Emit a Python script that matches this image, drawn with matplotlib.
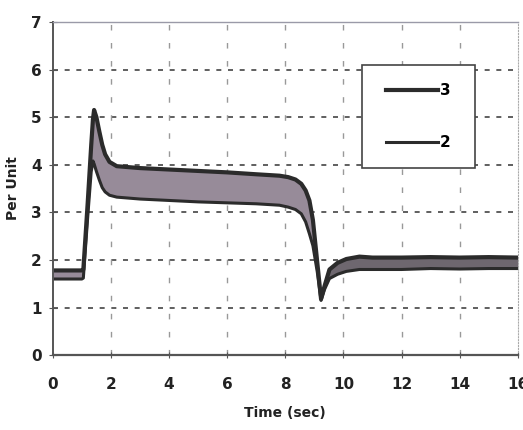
import numpy as np
import matplotlib.pyplot as plt
from matplotlib import font_manager
from matplotlib.patches import Rectangle

# time points (sec)
t = [0, 1.0, 1.05, 1.2, 1.32, 1.38, 1.42, 1.5, 1.6, 1.7, 1.8, 1.95, 2.2, 3, 4, 5, 6, 7, 7.8,
     8.1, 8.35, 8.55, 8.7, 8.83, 8.95, 9.1, 9.23, 9.35, 9.52, 9.8, 10.1, 10.55, 11, 12, 13, 14, 15, 16]
# curve 3 (upper envelope)
s3 = [1.78, 1.78, 1.8, 3.2, 4.4, 4.95, 5.15, 5.0, 4.7, 4.42, 4.22, 4.06, 3.97, 3.93, 3.9, 3.87, 3.84, 3.8, 3.77,
      3.74, 3.69, 3.6, 3.46, 3.25, 2.84, 1.95, 1.18, 1.45, 1.8, 1.94, 2.02, 2.07, 2.05, 2.05, 2.06, 2.05, 2.06, 2.05]
# curve 2 (lower envelope)
s2 = [1.6, 1.6, 1.62, 2.9, 3.85, 4.08, 4.02, 3.86, 3.68, 3.52, 3.43, 3.36, 3.32, 3.28, 3.25, 3.22, 3.2, 3.18, 3.15,
      3.11, 3.06, 2.97, 2.8, 2.55, 2.3, 1.75, 1.15, 1.38, 1.61, 1.7, 1.76, 1.8, 1.8, 1.8, 1.82, 1.81, 1.82, 1.82]

xticks = [0, 2, 4, 6, 8, 10, 12, 14, 16]
yticks = [0, 1, 2, 3, 4, 5, 6, 7]

t = np.array(t)
s3 = np.array(s3)
s2 = np.array(s2)

names = {f.name for f in font_manager.fontManager.ttflist}
if 'Liberation Sans Narrow' in names:
    plt.rcParams['font.family'] = ['Liberation Sans Narrow', 'DejaVu Sans']
    fs = 13
else:
    fs = 11

fig = plt.figure(figsize=(5.23, 4.30), dpi=100)
ax = fig.add_axes([0.101, 0.174, 0.889, 0.775])

ax.fill_between(t, s2, s3, where=(t <= 9.6), color='#978b99', lw=0, interpolate=True)
ax.fill_between(t, s2, s3, where=(t >= 9.5), color='#6e676f', lw=0, interpolate=True)
ax.plot(t, s3, color='#2b2b2b', lw=3, label='3', solid_joinstyle='round')
ax.plot(t, s2, color='#2b2b2b', lw=2.2, label='2', solid_joinstyle='round')

ax.set_xlim(0, 16)
ax.set_ylim(0, 7)
ax.set_xticks(xticks)
ax.set_yticks(yticks)

for y in yticks[1:-1]:
    ax.axhline(y, color='#444444', lw=1.2, ls=(0, (3, 4)), zorder=0)
for x in xticks[1:-1]:
    ax.axvline(x, color='#999999', lw=1.0, ls=(0, (4, 9)), zorder=0)

ax.spines['left'].set_color('#555555')
ax.spines['left'].set_linewidth(1.4)
ax.spines['bottom'].set_color('#555555')
ax.spines['bottom'].set_linewidth(1.6)
ax.spines['top'].set_color('#9a9aa8')
ax.spines['top'].set_linewidth(1.0)
ax.spines['right'].set_color('#aaaaaa')
ax.spines['right'].set_linestyle(':')

ax.tick_params(axis='x', direction='inout', length=5, color='#555555', pad=13)
ax.tick_params(axis='y', direction='inout', length=6, color='#555555', pad=5)
for lab in ax.get_xticklabels() + ax.get_yticklabels():
    lab.set_fontsize(fs)
    lab.set_fontweight('bold')
    lab.set_color('#222222')

ax.set_xlabel('Time (sec)', fontsize=fs - 1, fontweight='bold', color='#222222', labelpad=10)
ax.set_ylabel('Per Unit', fontsize=fs - 1, fontweight='bold', color='#222222', labelpad=8)

# legend frame drawn as a box, legend itself without frame
ax.add_patch(Rectangle((0.665, 0.562), 0.242, 0.309, transform=ax.transAxes,
                       fill=True, facecolor='white', edgecolor='#444444', lw=1.2, zorder=3))
leg = ax.legend(loc='center', bbox_to_anchor=(0.786, 0.716), frameon=False,
                handlelength=3.4, handletextpad=0.1, labelspacing=2.4,
                prop={'size': fs, 'weight': 'bold'})
leg.set_zorder(4)

fig.savefig('out.png', dpi=100)
